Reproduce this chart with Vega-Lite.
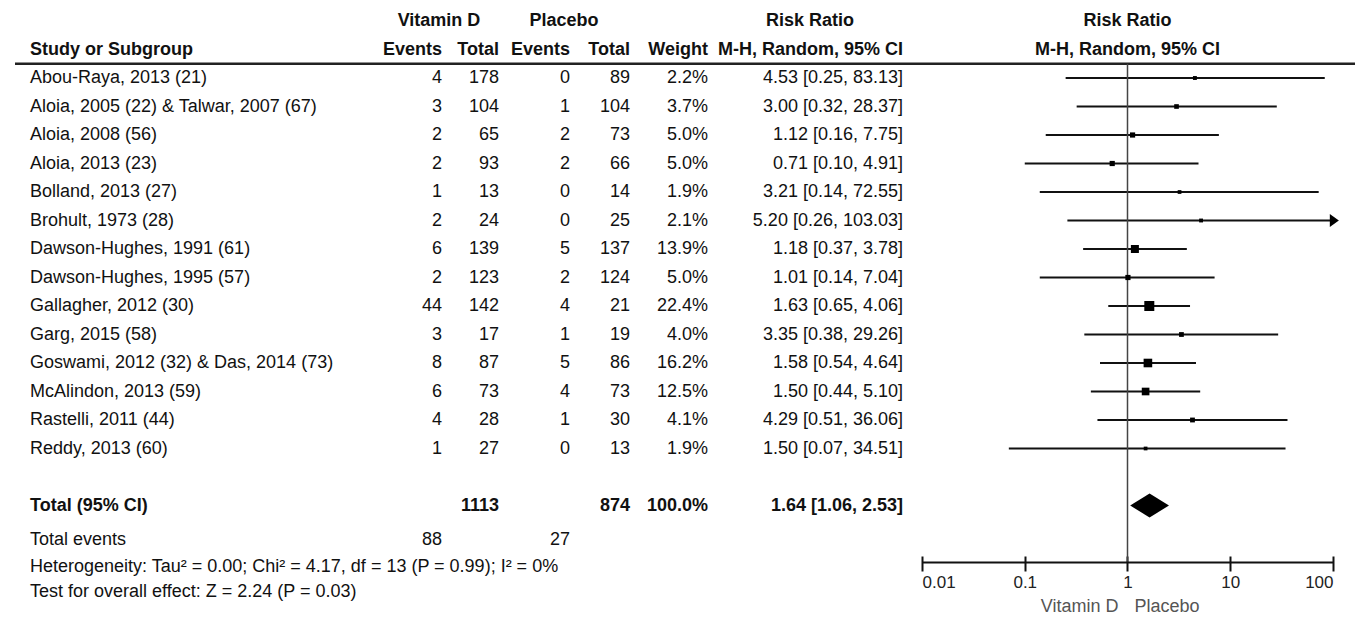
{
  "$schema": "https://vega.github.io/schema/vega-lite/v6.json",
  "padding": {"left": 13, "top": 0, "right": 0, "bottom": 0},
  "spacing": 0,
  "bounds": "flush",
  "config": {
    "view": {"stroke": null},
    "font": "Liberation Sans",
    "text": {"font": "Liberation Sans", "fontSize": 18, "color": "#111", "baseline": "middle"},
    "axis": {"grid": false},
    "concat": {"spacing": 0}
  },
  "datasets": {
    "studies": [
      {"study": "Abou-Raya, 2013 (21)", "ve": 4, "vt": 178, "pe": 0, "pt": 89, "weight": 2.2, "rr": 4.53, "lo": 0.25, "hi": 83.13},
      {"study": "Aloia, 2005 (22) & Talwar, 2007 (67)", "ve": 3, "vt": 104, "pe": 1, "pt": 104, "weight": 3.7, "rr": 3.00, "lo": 0.32, "hi": 28.37},
      {"study": "Aloia, 2008 (56)", "ve": 2, "vt": 65, "pe": 2, "pt": 73, "weight": 5.0, "rr": 1.12, "lo": 0.16, "hi": 7.75},
      {"study": "Aloia, 2013 (23)", "ve": 2, "vt": 93, "pe": 2, "pt": 66, "weight": 5.0, "rr": 0.71, "lo": 0.10, "hi": 4.91},
      {"study": "Bolland, 2013 (27)", "ve": 1, "vt": 13, "pe": 0, "pt": 14, "weight": 1.9, "rr": 3.21, "lo": 0.14, "hi": 72.55},
      {"study": "Brohult, 1973 (28)", "ve": 2, "vt": 24, "pe": 0, "pt": 25, "weight": 2.1, "rr": 5.20, "lo": 0.26, "hi": 103.03},
      {"study": "Dawson-Hughes, 1991 (61)", "ve": 6, "vt": 139, "pe": 5, "pt": 137, "weight": 13.9, "rr": 1.18, "lo": 0.37, "hi": 3.78},
      {"study": "Dawson-Hughes, 1995 (57)", "ve": 2, "vt": 123, "pe": 2, "pt": 124, "weight": 5.0, "rr": 1.01, "lo": 0.14, "hi": 7.04},
      {"study": "Gallagher, 2012 (30)", "ve": 44, "vt": 142, "pe": 4, "pt": 21, "weight": 22.4, "rr": 1.63, "lo": 0.65, "hi": 4.06},
      {"study": "Garg, 2015 (58)", "ve": 3, "vt": 17, "pe": 1, "pt": 19, "weight": 4.0, "rr": 3.35, "lo": 0.38, "hi": 29.26},
      {"study": "Goswami, 2012 (32) & Das, 2014 (73)", "ve": 8, "vt": 87, "pe": 5, "pt": 86, "weight": 16.2, "rr": 1.58, "lo": 0.54, "hi": 4.64},
      {"study": "McAlindon, 2013 (59)", "ve": 6, "vt": 73, "pe": 4, "pt": 73, "weight": 12.5, "rr": 1.50, "lo": 0.44, "hi": 5.10},
      {"study": "Rastelli, 2011 (44)", "ve": 4, "vt": 28, "pe": 1, "pt": 30, "weight": 4.1, "rr": 4.29, "lo": 0.51, "hi": 36.06},
      {"study": "Reddy, 2013 (60)", "ve": 1, "vt": 27, "pe": 0, "pt": 13, "weight": 1.9, "rr": 1.50, "lo": 0.07, "hi": 34.51}
    ],
    "total": [
      {"label": "Total (95% CI)", "weight": 100.0, "rr": 1.64, "lo": 1.06, "hi": 2.53}
    ]
  },
  "hconcat": [
    {
      "width": 387, "height": 617,
      "layer": [
        {"data": {"name": "studies"}, "transform": [{"window": [{"op": "row_number", "as": "row"}]}],
         "mark": {"type": "text", "align": "left", "x": 0, "dx": 15},
         "encoding": {"y": {"field": "row", "type": "quantitative", "scale": {"domain": [-1.737, 19.912], "reverse": true, "nice": false, "zero": false}, "axis": null}, "text": {"field": "study", "type": "nominal"}}},
        {"data": {"values": [{}]}, "mark": {"type": "text", "align": "left", "x": 0, "dx": 15, "fontWeight": "bold", "text": "Study or Subgroup"},
         "encoding": {"y": {"datum": 0, "type": "quantitative"}}},
        {"data": {"values": [{}]}, "mark": {"type": "rule", "strokeWidth": 2.5, "color": "#222"},
         "encoding": {"y": {"datum": 0.5, "type": "quantitative"}}},
        {"data": {"name": "total"}, "mark": {"type": "text", "align": "left", "x": 0, "dx": 15, "fontWeight": "bold"},
         "encoding": {"y": {"datum": 16, "type": "quantitative"}, "text": {"field": "label", "type": "nominal"}}},
        {"data": {"values": [{}]}, "mark": {"type": "text", "align": "left", "x": 0, "dx": 15, "text": "Total events"},
         "encoding": {"y": {"datum": 17.2, "type": "quantitative"}}},
        {"data": {"values": [{}]}, "mark": {"type": "text", "align": "left", "x": 0, "dx": 15, "text": "Heterogeneity: Tau² = 0.00; Chi² = 4.17, df = 13 (P = 0.99); I² = 0%"},
         "encoding": {"y": {"datum": 18.15, "type": "quantitative"}}},
        {"data": {"values": [{}]}, "mark": {"type": "text", "align": "left", "x": 0, "dx": 15, "text": "Test for overall effect: Z = 2.24 (P = 0.03)"},
         "encoding": {"y": {"datum": 19.05, "type": "quantitative"}}}
      ]
    },
    {
      "width": 40, "height": 617,
      "layer": [
        {"data": {"name": "studies"}, "transform": [{"window": [{"op": "row_number", "as": "row"}]}],
         "mark": {"type": "text", "align": "right", "x": "width"},
         "encoding": {"y": {"field": "row", "type": "quantitative", "scale": {"domain": [-1.737, 19.912], "reverse": true, "nice": false, "zero": false}, "axis": null}, "text": {"field": "ve", "type": "quantitative", "format": "d"}}},
        {"data": {"values": [{}]}, "mark": {"type": "text", "align": "center", "x": "width", "dx": -3, "fontWeight": "bold", "text": "Vitamin D"},
         "encoding": {"y": {"datum": -1, "type": "quantitative"}}},
        {"data": {"values": [{}]}, "mark": {"type": "text", "align": "right", "x": "width", "fontWeight": "bold", "text": "Events"},
         "encoding": {"y": {"datum": 0, "type": "quantitative"}}},
        {"data": {"values": [{}]}, "mark": {"type": "rule", "strokeWidth": 2.5, "color": "#222"},
         "encoding": {"y": {"datum": 0.5, "type": "quantitative"}}},
        {"data": {"name": "studies"}, "transform": [{"aggregate": [{"op": "sum", "field": "ve", "as": "sum_ve"}]}],
         "mark": {"type": "text", "align": "right", "x": "width"},
         "encoding": {"y": {"datum": 17.2, "type": "quantitative"}, "text": {"field": "sum_ve", "type": "quantitative", "format": "d"}}}
      ]
    },
    {
      "width": 57, "height": 617,
      "layer": [
        {"data": {"name": "studies"}, "transform": [{"window": [{"op": "row_number", "as": "row"}]}],
         "mark": {"type": "text", "align": "right", "x": "width"},
         "encoding": {"y": {"field": "row", "type": "quantitative", "scale": {"domain": [-1.737, 19.912], "reverse": true, "nice": false, "zero": false}, "axis": null}, "text": {"field": "vt", "type": "quantitative", "format": "d"}}},
        {"data": {"values": [{}]}, "mark": {"type": "text", "align": "right", "x": "width", "fontWeight": "bold", "text": "Total"},
         "encoding": {"y": {"datum": 0, "type": "quantitative"}}},
        {"data": {"values": [{}]}, "mark": {"type": "rule", "strokeWidth": 2.5, "color": "#222"},
         "encoding": {"y": {"datum": 0.5, "type": "quantitative"}}},
        {"data": {"name": "studies"}, "transform": [{"aggregate": [{"op": "sum", "field": "vt", "as": "sum_vt"}]}],
         "mark": {"type": "text", "align": "right", "x": "width", "fontWeight": "bold"},
         "encoding": {"y": {"datum": 16, "type": "quantitative"}, "text": {"field": "sum_vt", "type": "quantitative", "format": "d"}}}
      ]
    },
    {
      "width": 71, "height": 617,
      "layer": [
        {"data": {"name": "studies"}, "transform": [{"window": [{"op": "row_number", "as": "row"}]}],
         "mark": {"type": "text", "align": "right", "x": "width"},
         "encoding": {"y": {"field": "row", "type": "quantitative", "scale": {"domain": [-1.737, 19.912], "reverse": true, "nice": false, "zero": false}, "axis": null}, "text": {"field": "pe", "type": "quantitative", "format": "d"}}},
        {"data": {"values": [{}]}, "mark": {"type": "text", "align": "center", "x": "width", "dx": -6, "fontWeight": "bold", "text": "Placebo"},
         "encoding": {"y": {"datum": -1, "type": "quantitative"}}},
        {"data": {"values": [{}]}, "mark": {"type": "text", "align": "right", "x": "width", "fontWeight": "bold", "text": "Events"},
         "encoding": {"y": {"datum": 0, "type": "quantitative"}}},
        {"data": {"values": [{}]}, "mark": {"type": "rule", "strokeWidth": 2.5, "color": "#222"},
         "encoding": {"y": {"datum": 0.5, "type": "quantitative"}}},
        {"data": {"name": "studies"}, "transform": [{"aggregate": [{"op": "sum", "field": "pe", "as": "sum_pe"}]}],
         "mark": {"type": "text", "align": "right", "x": "width"},
         "encoding": {"y": {"datum": 17.2, "type": "quantitative"}, "text": {"field": "sum_pe", "type": "quantitative", "format": "d"}}}
      ]
    },
    {
      "width": 60, "height": 617,
      "layer": [
        {"data": {"name": "studies"}, "transform": [{"window": [{"op": "row_number", "as": "row"}]}],
         "mark": {"type": "text", "align": "right", "x": "width"},
         "encoding": {"y": {"field": "row", "type": "quantitative", "scale": {"domain": [-1.737, 19.912], "reverse": true, "nice": false, "zero": false}, "axis": null}, "text": {"field": "pt", "type": "quantitative", "format": "d"}}},
        {"data": {"values": [{}]}, "mark": {"type": "text", "align": "right", "x": "width", "fontWeight": "bold", "text": "Total"},
         "encoding": {"y": {"datum": 0, "type": "quantitative"}}},
        {"data": {"values": [{}]}, "mark": {"type": "rule", "strokeWidth": 2.5, "color": "#222"},
         "encoding": {"y": {"datum": 0.5, "type": "quantitative"}}},
        {"data": {"name": "studies"}, "transform": [{"aggregate": [{"op": "sum", "field": "pt", "as": "sum_pt"}]}],
         "mark": {"type": "text", "align": "right", "x": "width", "fontWeight": "bold"},
         "encoding": {"y": {"datum": 16, "type": "quantitative"}, "text": {"field": "sum_pt", "type": "quantitative", "format": "d"}}}
      ]
    },
    {
      "width": 78, "height": 617,
      "layer": [
        {"data": {"name": "studies"}, "transform": [{"window": [{"op": "row_number", "as": "row"}]}, {"calculate": "format(datum.weight, '.1f') + '%'", "as": "wl"}],
         "mark": {"type": "text", "align": "right", "x": "width"},
         "encoding": {"y": {"field": "row", "type": "quantitative", "scale": {"domain": [-1.737, 19.912], "reverse": true, "nice": false, "zero": false}, "axis": null}, "text": {"field": "wl", "type": "nominal"}}},
        {"data": {"values": [{}]}, "mark": {"type": "text", "align": "right", "x": "width", "fontWeight": "bold", "text": "Weight"},
         "encoding": {"y": {"datum": 0, "type": "quantitative"}}},
        {"data": {"values": [{}]}, "mark": {"type": "rule", "strokeWidth": 2.5, "color": "#222"},
         "encoding": {"y": {"datum": 0.5, "type": "quantitative"}}},
        {"data": {"name": "total"}, "transform": [{"calculate": "format(datum.weight, '.1f') + '%'", "as": "twl"}],
         "mark": {"type": "text", "align": "right", "x": "width", "fontWeight": "bold"},
         "encoding": {"y": {"datum": 16, "type": "quantitative"}, "text": {"field": "twl", "type": "nominal"}}}
      ]
    },
    {
      "width": 214, "height": 617,
      "layer": [
        {"data": {"name": "studies"}, "transform": [{"window": [{"op": "row_number", "as": "row"}]}, {"calculate": "format(datum.rr, '.2f') + ' [' + format(datum.lo, '.2f') + ', ' + format(datum.hi, '.2f') + ']'", "as": "ci"}],
         "mark": {"type": "text", "align": "right", "x": "width", "dx": -19},
         "encoding": {"y": {"field": "row", "type": "quantitative", "scale": {"domain": [-1.737, 19.912], "reverse": true, "nice": false, "zero": false}, "axis": null}, "text": {"field": "ci", "type": "nominal"}}},
        {"data": {"values": [{}]}, "mark": {"type": "text", "align": "center", "x": "width", "dx": -112, "fontWeight": "bold", "text": "Risk Ratio"},
         "encoding": {"y": {"datum": -1, "type": "quantitative"}}},
        {"data": {"values": [{}]}, "mark": {"type": "text", "align": "right", "x": "width", "dx": -19, "fontWeight": "bold", "text": "M-H, Random, 95% CI"},
         "encoding": {"y": {"datum": 0, "type": "quantitative"}}},
        {"data": {"values": [{}]}, "mark": {"type": "rule", "strokeWidth": 2.5, "color": "#222"},
         "encoding": {"y": {"datum": 0.5, "type": "quantitative"}}},
        {"data": {"name": "total"}, "transform": [{"calculate": "format(datum.rr, '.2f') + ' [' + format(datum.lo, '.2f') + ', ' + format(datum.hi, '.2f') + ']'", "as": "tci"}],
         "mark": {"type": "text", "align": "right", "x": "width", "dx": -19, "fontWeight": "bold"},
         "encoding": {"y": {"datum": 16, "type": "quantitative"}, "text": {"field": "tci", "type": "nominal"}}}
      ]
    },
    {
      "width": 411, "height": 556,
      "layer": [
        {"data": {"name": "studies"}, "transform": [{"window": [{"op": "row_number", "as": "row"}]}],
         "mark": {"type": "rule", "strokeWidth": 2, "color": "#111"},
         "encoding": {
           "x": {"field": "lo", "type": "quantitative", "scale": {"type": "log", "domain": [0.01, 100], "nice": false},
                 "axis": {"values": [0.01, 0.1, 1, 10, 100], "format": "~g", "domain": false, "tickSize": 15, "tickWidth": 2, "tickColor": "#111", "labelFlush": true, "labelFontSize": 17, "labelFont": "Liberation Sans", "labelColor": "#222", "labelPadding": 3, "title": null, "grid": false, "orient": "bottom"}},
           "x2": {"field": "hi"},
           "y": {"field": "row", "type": "quantitative", "scale": {"domain": [-1.737, 17.772], "reverse": true, "nice": false, "zero": false}, "axis": null}}},
        {"data": {"values": [{}]}, "mark": {"type": "rule", "strokeWidth": 2.5, "color": "#222"},
         "encoding": {"x": {"datum": 0.01, "type": "quantitative"}, "x2": {"datum": 170}, "y": {"datum": 0.5, "type": "quantitative"}}},
        {"data": {"values": [{}]}, "mark": {"type": "rule", "strokeWidth": 1.5, "color": "#444"},
         "encoding": {"x": {"datum": 1, "type": "quantitative"}, "y": {"datum": 0.5, "type": "quantitative"}, "y2": {"datum": 18.0}}},
        {"data": {"values": [{}]}, "mark": {"type": "rule", "strokeWidth": 2, "color": "#111"},
         "encoding": {"x": {"datum": 0.01, "type": "quantitative"}, "x2": {"datum": 100}, "y": {"datum": 18.0, "type": "quantitative"}}},
        {"data": {"name": "studies"}, "transform": [{"window": [{"op": "row_number", "as": "row"}]}],
         "mark": {"type": "point", "shape": "square", "filled": true, "color": "#000", "opacity": 1},
         "encoding": {
           "x": {"field": "rr", "type": "quantitative"},
           "y": {"field": "row", "type": "quantitative"},
           "size": {"field": "weight", "type": "quantitative", "scale": {"domain": [0, 22.4], "range": [6, 100]}, "legend": null}}},
        {"data": {"name": "studies"}, "transform": [{"window": [{"op": "row_number", "as": "row"}]}, {"filter": "datum.hi > 100"}],
         "mark": {"type": "point", "shape": "M-0.7,-1L0.7,0L-0.7,1Z", "filled": true, "color": "#000", "opacity": 1, "size": 169, "dx": -4},
         "encoding": {"x": {"field": "hi", "type": "quantitative"}, "y": {"field": "row", "type": "quantitative"}}},
        {"data": {"name": "total"},
         "mark": {"type": "point", "shape": "M-1,0L0,-0.62L1,0L0,0.62Z", "filled": true, "color": "#000", "opacity": 1, "size": 1505},
         "encoding": {"x": {"field": "rr", "type": "quantitative"}, "y": {"datum": 16, "type": "quantitative"}}},
        {"data": {"values": [{}]}, "mark": {"type": "text", "align": "center", "fontWeight": "bold", "text": "Risk Ratio"},
         "encoding": {"x": {"datum": 1, "type": "quantitative"}, "y": {"datum": -1, "type": "quantitative"}}},
        {"data": {"values": [{}]}, "mark": {"type": "text", "align": "center", "fontWeight": "bold", "text": "M-H, Random, 95% CI"},
         "encoding": {"x": {"datum": 1, "type": "quantitative"}, "y": {"datum": 0, "type": "quantitative"}}},
        {"data": {"values": [{}]}, "mark": {"type": "text", "align": "right", "dx": -9, "color": "#555", "text": "Vitamin D"},
         "encoding": {"x": {"datum": 1, "type": "quantitative"}, "y": {"datum": 19.55, "type": "quantitative"}}},
        {"data": {"values": [{}]}, "mark": {"type": "text", "align": "left", "dx": 7, "color": "#555", "text": "Placebo"},
         "encoding": {"x": {"datum": 1, "type": "quantitative"}, "y": {"datum": 19.55, "type": "quantitative"}}}
      ]
    }
  ]
}
